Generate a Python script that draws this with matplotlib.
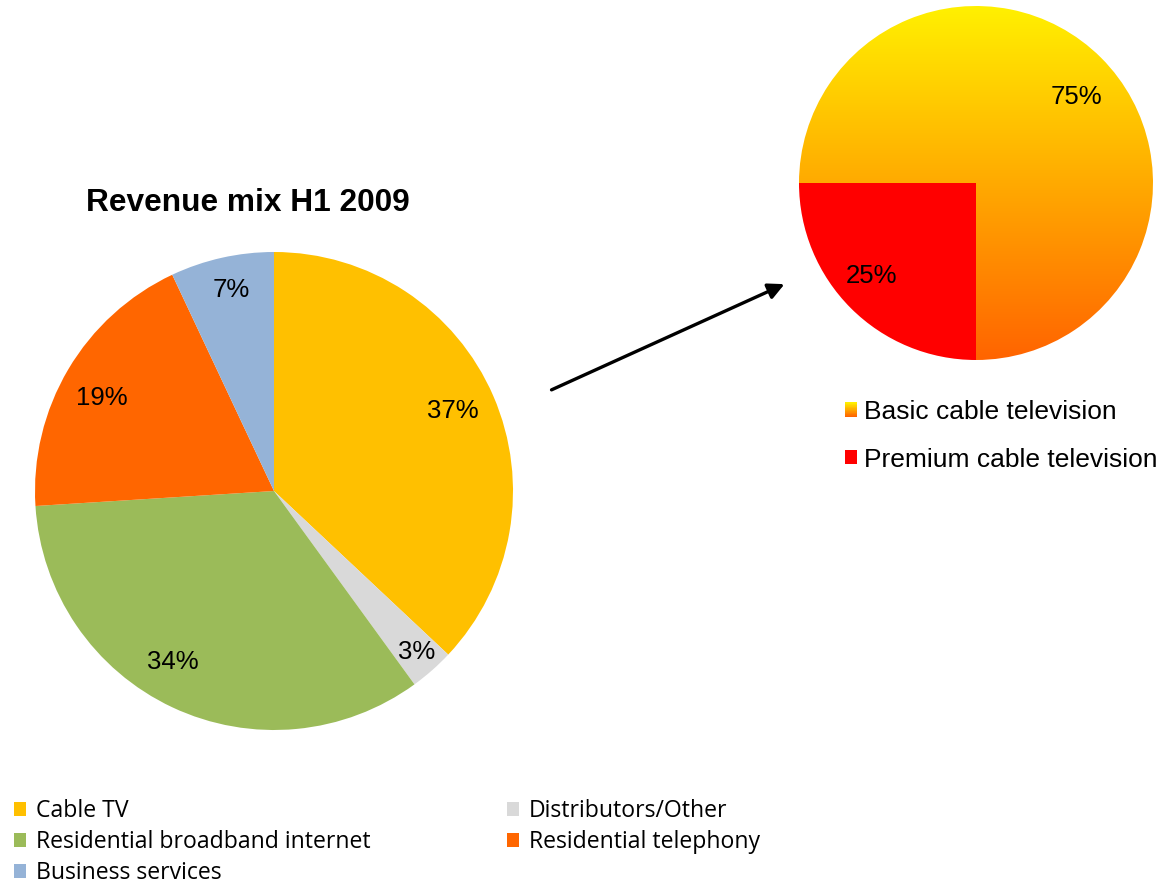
import numpy as np
import matplotlib
matplotlib.use("Agg")
import matplotlib.pyplot as plt
from matplotlib.patches import Patch, Rectangle, FancyArrowPatch
from matplotlib.colors import LinearSegmentedColormap
from matplotlib.legend_handler import HandlerPatch

# Revenue split, H1 2009
segments = ["Cable TV", "Distributors/Other", "Residential broadband internet",
            "Residential telephony", "Business services"]
shares = [37, 3, 34, 19, 7]
segment_colors = ["#FFC000", "#D9D9D9", "#9BBB59", "#FF6600", "#95B3D7"]

# Breakdown of the cable TV revenue
tv_labels = ["Basic cable television", "Premium cable television"]
tv_shares = [75, 25]
premium_color = "#FF0000"

title = "Revenue mix H1 2009"

W, H = 1165, 884
fig = plt.figure(figsize=(W / 100, H / 100), dpi=100)
fig.patch.set_facecolor("white")


def px_axes(left, top, size):
    """Square axes placed by pixel position (top-left origin)."""
    return fig.add_axes([left / W, (H - top - size) / H, size / W, size / H])


label_font = dict(family="Liberation Sans", fontsize=18.5, color="black")

# ---- main pie ----
ax = px_axes(35, 252, 478)
wedges, _ = ax.pie(shares, colors=segment_colors, startangle=90,
                   counterclock=False, radius=1,
                   wedgeprops=dict(linewidth=0))
label_r = [0.82, 0.90, 0.83, 0.82, 0.86]
label_nudge = [0.6, 0.2, -5.5, 2.2, -0.6]
for w, v, r, d in zip(wedges, shares, label_r, label_nudge):
    mid = np.deg2rad((w.theta1 + w.theta2) / 2 + d)
    ax.text(r * np.cos(mid), r * np.sin(mid), f"{v}%",
            ha="center", va="center", **label_font)
ax.set_xlim(-1, 1)
ax.set_ylim(-1, 1)
ax.set_aspect("equal")
ax.axis("off")

fig.text(248 / W, 1 - 203 / H, title, ha="center", va="center",
         family="Liberation Sans", fontsize=22.8, fontweight="bold")

# ---- cable TV breakdown pie with a vertical gradient ----
grad_cmap = LinearSegmentedColormap.from_list("basic", ["#FF6400", "#FFF000"])

ax2 = px_axes(799, 6, 354)
w2, _ = ax2.pie(tv_shares, colors=["none", premium_color], startangle=-90,
                counterclock=True, radius=1, wedgeprops=dict(linewidth=0))
grad = np.linspace(1, 0, 256)[:, None]
im = ax2.imshow(grad, cmap=grad_cmap, extent=(-1, 1, -1, 1), origin="upper",
                aspect="auto", vmin=0, vmax=1, zorder=0.5)
im.set_clip_path(w2[0])
tv_r = [0.75, 0.79]
tv_nudge = [-4.4, -3.5]
for w, v, r, d in zip(w2, tv_shares, tv_r, tv_nudge):
    mid = np.deg2rad((w.theta1 + w.theta2) / 2 + d)
    ax2.text(r * np.cos(mid), r * np.sin(mid), f"{v}%",
             ha="center", va="center", zorder=3, **label_font)
ax2.set_xlim(-1, 1)
ax2.set_ylim(-1, 1)
ax2.set_aspect("equal")
ax2.axis("off")


class GradientSwatch(HandlerPatch):
    def create_artists(self, legend, orig_handle, xdescent, ydescent,
                       width, height, fontsize, trans):
        n = 24
        arts = []
        for i in range(n):
            c = grad_cmap(i / (n - 1))
            arts.append(Rectangle((-xdescent, -ydescent + height * i / n),
                                  width, height / n * 1.05, facecolor=c,
                                  edgecolor="none", transform=trans))
        return arts


basic_handle = Patch(facecolor="#FFAA00")
premium_handle = Patch(facecolor=premium_color)
fig.legend([basic_handle, premium_handle], tv_labels,
           handler_map={basic_handle: GradientSwatch()},
           loc="upper left", bbox_to_anchor=(845 / W, 1 - 400 / H),
           frameon=False, borderpad=0, borderaxespad=0,
           prop=dict(family="Liberation Sans", size=19),
           handlelength=0.45, handleheight=0.45, handletextpad=0.27,
           labelspacing=0.9)

# ---- arrow linking the cable TV slice to its breakdown ----
fig.add_artist(FancyArrowPatch((549 / W, 1 - 391 / H), (787 / W, 1 - 283 / H),
                               transform=fig.transFigure,
                               arrowstyle="-|>,head_length=0.6,head_width=0.3",
                               mutation_scale=16, linewidth=2.4,
                               color="black"))

# ---- main legend ----
order = [0, 2, 4, 1, 3]
handles = [Patch(facecolor=segment_colors[i]) for i in order]
fig.legend(handles, [segments[i] for i in order], ncol=2,
           loc="upper left", bbox_to_anchor=(14 / W, 1 - 799 / H),
           frameon=False, borderpad=0, borderaxespad=0,
           prop=dict(family="Open Sans", size=16.6),
           handlelength=0.53, handleheight=0.53, handletextpad=0.43,
           labelspacing=0.31, columnspacing=5.9)

fig.savefig("out.png", dpi=100, facecolor="white")
